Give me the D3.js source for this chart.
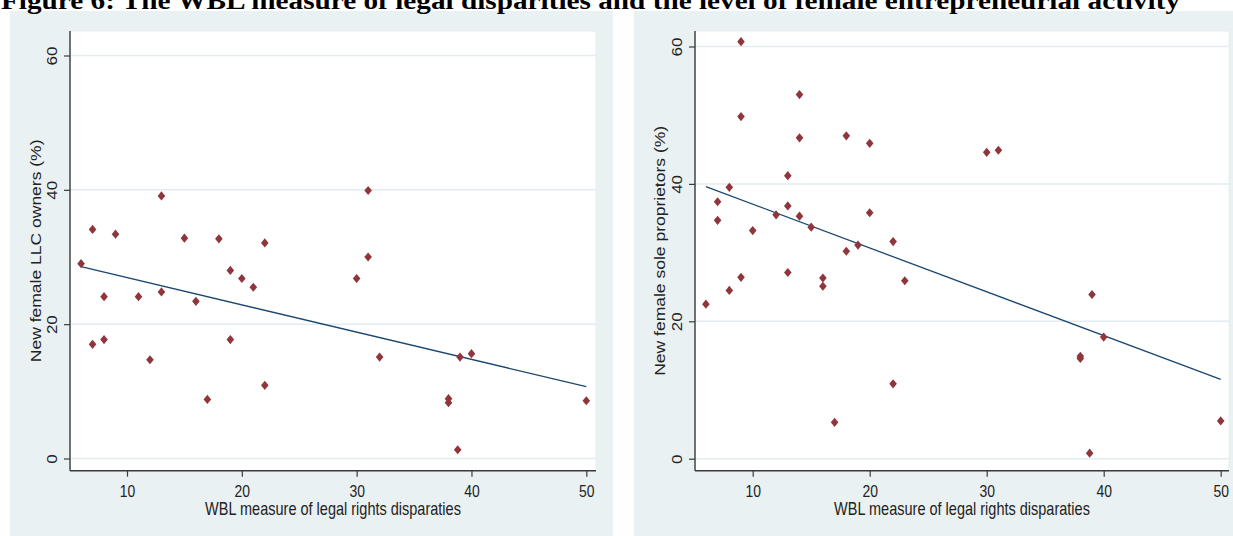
<!DOCTYPE html>
<html>
<head>
<meta charset="utf-8">
<script src="https://cdn.jsdelivr.net/npm/d3@7"></script>
<style>
  html, body { margin: 0; padding: 0; background: #ffffff; }
  svg { display: block; }
</style>
</head>
<body>
<svg id="chart" width="1233" height="536"></svg>
<script>
// Figure 6: WBL legal-rights disparities vs. female entrepreneurial activity

const titleText = "Figure 6: The WBL measure of legal disparities and the level of female entrepreneurial activity";
const xTitle = "WBL measure of legal rights disparaties";
const xTicks = [10, 20, 30, 40, 50];
const yTicks = [0, 20, 40, 60];

// Left panel: new female LLC owners (%)
const llcWbl = [6, 7, 7, 8, 8, 9, 11, 12, 13, 13, 15, 16, 17, 18, 19, 19, 20, 21, 22, 22,
                30, 31, 31, 32, 38, 38, 38.8, 39, 40, 50];
const llcShare = [29.0, 34.1, 17.0, 17.7, 24.1, 33.4, 24.1, 14.7, 39.1, 24.8, 32.8, 23.4, 8.8, 32.7, 28.0, 17.7, 26.8, 25.5, 32.1, 10.9,
                  26.8, 39.9, 30.0, 15.1, 8.9, 8.3, 1.3, 15.1, 15.6, 8.6];
const llcFitX = [6, 50];
const llcFitY = [28.55, 10.7];

// Right panel: new female sole proprietors (%)
const soleWbl = [6, 7, 7, 8, 8, 9, 9, 9, 10, 12, 13, 13, 13, 14, 14, 14, 15, 16, 16, 17,
                 18, 18, 19, 20, 20, 22, 22, 23, 30, 31, 38, 38, 38.8, 39, 40, 50];
const soleShare = [22.5, 37.4, 34.7, 39.5, 24.5, 60.7, 49.8, 26.4, 33.2, 35.5, 41.2, 36.8, 27.1, 53.0, 46.7, 35.3, 33.7, 26.3, 25.1, 5.3,
                   47.0, 30.2, 31.1, 45.9, 35.8, 31.6, 10.9, 25.9, 44.6, 44.9, 14.9, 14.6, 0.8, 23.9, 17.7, 5.5];
const soleFitX = [6, 50];
const soleFitY = [39.6, 11.55];

const panels = [
  {
    yTitle: "New female LLC owners (%)",
    xs: llcWbl, ys: llcShare, fitX: llcFitX, fitY: llcFitY,
    bg: [10, 11, 613, 536],
    plot: [70, 31, 596, 470.7],
    xRange: [127, 586.3],
    yRange: [458.5, 55.5],
    tickLabelX: 57, yTitleX: 40.5
  },
  {
    yTitle: "New female sole proprietors (%)",
    xs: soleWbl, ys: soleShare, fitX: soleFitX, fitY: soleFitY,
    bg: [634, 11, 1233, 536],
    plot: [695, 31, 1229, 470.7],
    xRange: [752.7, 1220.7],
    yRange: [458.7, 46.5],
    tickLabelX: 681.5, yTitleX: 665
  }
];

const SX = 0.82;          // horizontal squeeze of the exported graph
const FONT = "'Liberation Sans', Arial, sans-serif";
const BG = "#eaf1f3";
const GRID = "#e3ecef";
const AXIS = "#3a3a3a";
const MARKER = "#90353b";
const FIT = "#1a476f";

const svg = d3.select("#chart");

function diamond(cx, cy) {
  const hw = 3.8, hh = 4.6;
  return `M${cx},${cy - hh}L${cx + hw},${cy}L${cx},${cy + hh}L${cx - hw},${cy}Z`;
}

panels.forEach(p => {
  const g = svg.append("g");
  const [bx0, by0, bx1, by1] = p.bg;
  const [px0, py0, px1, py1] = p.plot;

  g.append("rect").attr("x", bx0).attr("y", by0)
    .attr("width", bx1 - bx0).attr("height", by1 - by0).attr("fill", BG);
  g.append("rect").attr("x", px0).attr("y", py0)
    .attr("width", px1 - px0).attr("height", py1 - py0)
    .attr("fill", "#ffffff").attr("stroke", "#e6eef1").attr("stroke-width", 1);

  const x = d3.scaleLinear().domain([10, 50]).range(p.xRange);
  const y = d3.scaleLinear().domain([0, 60]).range(p.yRange);

  // horizontal grid
  g.append("g").selectAll("line").data(yTicks).join("line")
    .attr("x1", px0).attr("x2", px1)
    .attr("y1", d => y(d)).attr("y2", d => y(d))
    .attr("stroke", GRID).attr("stroke-width", 1.5);

  // y axis
  const yAxis = g.append("g").attr("transform", `translate(${px0},0)`)
    .call(d3.axisLeft(y).tickValues(yTicks).tickSize(6).tickPadding(0).tickFormat(d3.format("d")));
  yAxis.select(".domain").remove();
  yAxis.selectAll(".tick line").attr("stroke", AXIS).attr("stroke-width", 1.2);
  yAxis.selectAll(".tick text")
    .attr("x", null).attr("y", null).attr("dy", null)
    .attr("text-anchor", "middle")
    .attr("transform", `translate(${p.tickLabelX - px0},0) scale(${SX},1) rotate(-90)`)
    .attr("fill", "#222").style("font-family", FONT).style("font-size", "17px");

  // x axis
  const xAxis = g.append("g").attr("transform", `translate(0,${py1})`)
    .call(d3.axisBottom(x).tickValues(xTicks).tickSize(6).tickPadding(0).tickFormat(d3.format("d")));
  xAxis.select(".domain").remove();
  xAxis.selectAll(".tick line").attr("stroke", AXIS).attr("stroke-width", 1.2);
  xAxis.selectAll(".tick text")
    .attr("x", null).attr("y", null).attr("dy", null)
    .attr("text-anchor", "middle")
    .attr("transform", `translate(0,${497 - py1}) scale(${SX},1)`)
    .attr("fill", "#222").style("font-family", FONT).style("font-size", "17px");

  // axis lines
  g.append("line").attr("x1", px0).attr("x2", px0).attr("y1", py0).attr("y2", py1)
    .attr("stroke", AXIS).attr("stroke-width", 1.4);
  g.append("line").attr("x1", px0).attr("x2", px1).attr("y1", py1).attr("y2", py1)
    .attr("stroke", AXIS).attr("stroke-width", 1.4);

  // fitted line
  const fit = p.fitX.map((v, i) => [v, p.fitY[i]]);
  g.append("path").datum(fit)
    .attr("d", d3.line().x(d => x(d[0])).y(d => y(d[1])))
    .attr("fill", "none").attr("stroke", FIT).attr("stroke-width", 1.3);

  // markers
  const pts = p.xs.map((v, i) => [v, p.ys[i]]);
  g.append("g").selectAll("path").data(pts).join("path")
    .attr("d", d => diamond(x(d[0]), y(d[1])))
    .attr("fill", MARKER);

  // axis titles
  g.append("text")
    .attr("transform", `translate(${(px0 + px1) / 2},515) scale(${SX},1)`)
    .attr("text-anchor", "middle").attr("fill", "#222")
    .style("font-family", FONT).style("font-size", "17.7px")
    .text(xTitle);
  g.append("text")
    .attr("transform", `translate(${p.yTitleX},${(py0 + py1) / 2}) scale(${SX},1) rotate(-90)`)
    .attr("text-anchor", "middle").attr("fill", "#222")
    .style("font-family", FONT).style("font-size", "17.5px")
    .text(p.yTitle);
});

// figure caption across the top
const title = svg.append("text")
  .attr("x", 0).attr("y", 0)
  .style("font-family", "'Liberation Serif', 'Times New Roman', serif")
  .style("font-weight", "bold").style("font-size", "26px")
  .attr("fill", "#000")
  .text(titleText);
const tw = title.node().getComputedTextLength();
title.attr("transform", `translate(1,9) scale(${1180 / tw},1)`);
</script>
</body>
</html>
